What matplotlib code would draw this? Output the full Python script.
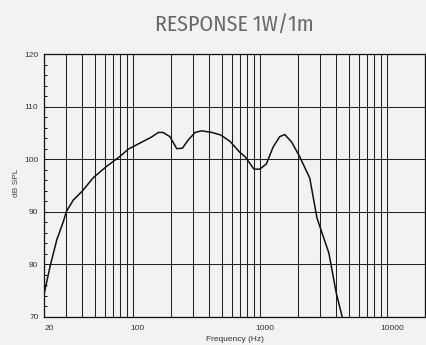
import matplotlib
matplotlib.use("Agg")
import matplotlib.pyplot as plt
import matplotlib.transforms as mtransforms
from matplotlib.ticker import FixedLocator, NullFormatter, MultipleLocator

# ---- data ----
freq_hz = [20, 22.3, 25.2, 28.4, 30, 34, 40, 49, 62, 79, 92, 121, 140, 159, 173,
           196, 222, 246, 274, 310, 348, 420, 494, 583, 697, 765, 900, 1000,
           1128, 1273, 1436, 1574, 1778, 2050, 2475, 2820, 3500, 4000, 4450]
spl_db = [74.2, 79.5, 84.6, 88.1, 90.0, 92.2, 93.9, 96.5, 98.6, 100.5, 101.9,
          103.4, 104.2, 105.1, 105.1, 104.3, 102.0, 102.1, 103.7, 105.1, 105.4,
          105.1, 104.6, 103.4, 101.3, 100.5, 98.1, 98.1, 99.1, 102.3, 104.3,
          104.7, 103.3, 100.6, 96.4, 88.8, 82.1, 74.5, 70.0]
x_ticks = [20, 100, 1000, 10000]
x_tick_labels = ["20", "100", "1000", "10000"]
y_ticks = [70, 80, 90, 100, 110, 120]
y_tick_labels = ["70", "80", "90", "100", "110", "120"]
title = "RESPONSE 1W/1m"
x_label = "Frequency (Hz)"
y_label = "dB SPL"

W, H = 427, 345
bg = "#f1f2f4"
fig = plt.figure(figsize=(W / 100, H / 100), dpi=100, facecolor=bg)
ax = fig.add_axes([44 / W, 1 - 316.5 / H, (425 - 44) / W, (316.5 - 54.3) / H])
ax.set_facecolor(bg)

ax.set_xscale("log")
ax.set_xlim(20, 20000)
ax.set_ylim(70, 120)

# grid lines
minor_x = [m * 10 ** e for e in range(1, 5) for m in range(1, 10) if 20 <= m * 10 ** e <= 20000]
ax.xaxis.set_major_locator(FixedLocator(x_ticks))
ax.xaxis.set_minor_locator(FixedLocator(minor_x))
ax.xaxis.set_minor_formatter(NullFormatter())
ax.set_xticks(x_ticks)
ax.set_xticklabels(x_tick_labels)
for fx in minor_x:
    ax.axvline(fx, color="#222222", lw=0.75, zorder=1)
ax.set_yticks(y_ticks)
ax.set_yticklabels(y_tick_labels)
ax.yaxis.set_minor_locator(MultipleLocator(2))
for yv in y_ticks:
    ax.axhline(yv, color="#222222", lw=0.75, zorder=1)

ax.plot(freq_hz, spl_db, color="#111111", lw=1.1, zorder=3, clip_on=True)

for s in ax.spines.values():
    s.set_color("#111111")
    s.set_linewidth(0.9)

ax.tick_params(axis="x", which="both", length=0, pad=6, labelsize=6, labelcolor="#333333")
ax.tick_params(axis="y", which="major", direction="in", length=2.5, width=0.7,
               pad=4, labelsize=6, labelcolor="#333333")
ax.tick_params(axis="y", which="minor", direction="in", length=2.5, width=0.7)

for lab in ax.xaxis.get_majorticklabels():
    lab.set_fontfamily("Liberation Sans")
    lab.set_transform(lab.get_transform() +
                      mtransforms.ScaledTranslation(5 / 100, 0, fig.dpi_scale_trans))
for lab in ax.yaxis.get_majorticklabels():
    lab.set_fontfamily("Liberation Sans")

ax.set_xlabel(x_label, fontsize=6, color="#333333", family="Liberation Sans", labelpad=3)
fig.text(17 / W, 1 - 183 / H, y_label, rotation=90, fontsize=6, color="#444444",
         family="Liberation Sans", ha="center", va="center")

fig.text(234 / W, 1 - 31.7 / H, title, ha="center", va="baseline", fontsize=15.8,
         color="#6a6a6a", family=["Fira Sans Condensed", "DejaVu Sans"])

fig.savefig("out.png", dpi=100, facecolor=bg)
